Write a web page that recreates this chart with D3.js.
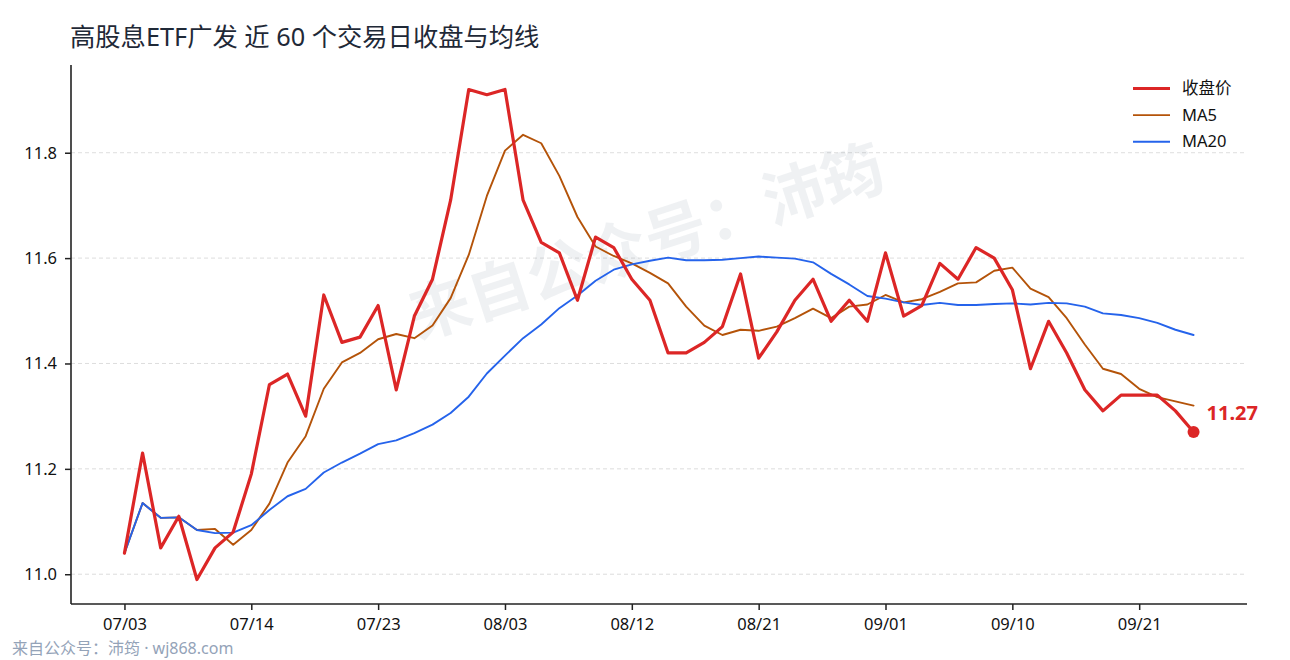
<!DOCTYPE html>
<html>
<head>
<meta charset="utf-8">
<script src="https://cdn.jsdelivr.net/npm/d3@7/dist/d3.min.js"></script>
<style>
  html, body { margin: 0; padding: 0; background: #fff; }
  svg { display: block; font-family: "Noto Sans", "Noto Sans CJK SC", sans-serif; }
</style>
</head>
<body>
<div id="container"></div>
<script>
// trading days (only every 7th shows as a tick)
const dates = [
  "07/03","07/04","07/07","07/08","07/09","07/10","07/11","07/14",
  "07/15","07/16","07/17","07/18","07/21","07/22","07/23",
  "07/24","07/25","07/28","07/29","07/30","07/31","08/03",
  "08/04","08/05","08/06","08/07","08/08","08/11","08/12",
  "08/13","08/14","08/15","08/18","08/19","08/20","08/21",
  "08/22","08/25","08/26","08/27","08/28","08/29","09/01",
  "09/02","09/03","09/04","09/05","09/08","09/09","09/10",
  "09/11","09/12","09/15","09/16","09/17","09/18","09/21",
  "09/22","09/23","09/24"
]

const close = [
  11.04, 11.23, 11.05, 11.11, 10.99, 11.05, 11.08, 11.19, 11.36, 11.38,
  11.30, 11.53, 11.44, 11.45, 11.51, 11.35, 11.49, 11.56, 11.71, 11.92,
  11.91, 11.92, 11.71, 11.63, 11.61, 11.52, 11.64, 11.62, 11.56, 11.52,
  11.42, 11.42, 11.44, 11.47, 11.57, 11.41, 11.46, 11.52, 11.56, 11.48,
  11.52, 11.48, 11.61, 11.49, 11.51, 11.59, 11.56, 11.62, 11.60, 11.54,
  11.39, 11.48, 11.42, 11.35, 11.31, 11.34, 11.34, 11.34, 11.31, 11.27
]

const ma5 = [
  11.040, 11.135, 11.107, 11.108, 11.084, 11.086, 11.056, 11.084, 11.134, 11.212,
  11.262, 11.352, 11.402, 11.420, 11.446, 11.456, 11.448, 11.472, 11.524, 11.606,
  11.718, 11.804, 11.834, 11.818, 11.756, 11.678, 11.622, 11.604, 11.590, 11.572,
  11.552, 11.508, 11.472, 11.454, 11.464, 11.462, 11.470, 11.486, 11.504, 11.486,
  11.508, 11.512, 11.530, 11.516, 11.522, 11.536, 11.552, 11.554, 11.576, 11.582,
  11.542, 11.526, 11.486, 11.436, 11.390, 11.380, 11.352, 11.336, 11.328, 11.320
]

const ma20 = [
  11.040, 11.135, 11.107, 11.108, 11.084, 11.078, 11.079, 11.093, 11.122, 11.148,
  11.162, 11.193, 11.212, 11.229, 11.247, 11.254, 11.268, 11.284, 11.306, 11.337,
  11.381, 11.415, 11.448, 11.474, 11.505, 11.529, 11.557, 11.578, 11.588, 11.595,
  11.601, 11.596, 11.596, 11.597, 11.600, 11.603, 11.601, 11.599, 11.592, 11.570,
  11.550, 11.528, 11.523, 11.516, 11.511, 11.515, 11.511, 11.511, 11.513, 11.514,
  11.512, 11.515, 11.514, 11.508, 11.495, 11.492, 11.486, 11.477, 11.464, 11.454
]

const yTicks = [11.0, 11.2, 11.4, 11.6, 11.8]

const series = [
  {name: "收盘价", values: close, color: "#dc2626", width: 3.2},
  {name: "MA5", values: ma5, color: "#b45309", width: 1.9},
  {name: "MA20", values: ma20, color: "#2563eb", width: 1.9}
]

const width = 1290
const height = 660
const plot = {left: 71, right: 1247, top: 65, bottom: 604}

const n = close.length
const pad = (n - 1) * 0.05
const x = d3.scaleLinear()
    .domain([-pad, n - 1 + pad])
    .range([plot.left, plot.right])

const lo = d3.min(close), hi = d3.max(close)
const ypad = (hi - lo) * 0.05
const y = d3.scaleLinear()
    .domain([lo - ypad, hi + ypad])
    .range([plot.bottom, plot.top])

const svg = d3.create("svg")
    .attr("width", width)
    .attr("height", height)

svg.append("rect").attr("width", width).attr("height", height).attr("fill", "#fff")

// grid
svg.append("g")
    .selectAll("line")
    .data(yTicks)
    .join("line")
    .attr("x1", plot.left)
    .attr("x2", plot.right)
    .attr("y1", d => y(d))
    .attr("y2", d => y(d))
    .attr("stroke", "#d9d9d9")
    .attr("stroke-width", 0.9)
    .attr("stroke-dasharray", "4,3")

// watermark in the middle
svg.append("text")
    .attr("transform", "translate(648,247) rotate(-18)")
    .attr("text-anchor", "middle")
    .attr("dominant-baseline", "middle")
    .attr("font-family", "Noto Sans CJK SC")
    .attr("font-size", 62)
    .attr("font-weight", "bold")
    .attr("fill", "#64748b")
    .attr("fill-opacity", 0.1)
    .text("来自公众号：沛筠")

// MA5, MA20, then close on top
const line = d3.line()
    .x((d, i) => x(i))
    .y(d => y(d))

const order = [series[1], series[2], series[0]]
svg.append("g")
    .selectAll("path")
    .data(order)
    .join("path")
    .attr("d", d => line(d.values))
    .attr("fill", "none")
    .attr("stroke", d => d.color)
    .attr("stroke-width", d => d.width)
    .attr("stroke-linejoin", "round")
    .attr("stroke-linecap", "round")

// last point marker
const last = close[n - 1]
svg.append("circle")
    .attr("cx", x(n - 1))
    .attr("cy", y(last))
    .attr("r", 6)
    .attr("fill", "#dc2626")

svg.append("text")
    .attr("x", x(n - 1) + 13)
    .attr("y", y(last) - 12)
    .attr("font-size", 20)
    .attr("font-weight", "bold")
    .attr("fill", "#dc2626")
    .text(last.toFixed(2))

// axes
const xAxis = svg.append("g")
    .attr("transform", `translate(0, ${plot.bottom})`)
    .call(d3.axisBottom(x)
        .tickValues(d3.range(0, n, 7))
        .tickFormat(i => dates[i])
        .tickSize(6)
        .tickPadding(8))

const yAxis = svg.append("g")
    .attr("transform", `translate(${plot.left}, 0)`)
    .call(d3.axisLeft(y)
        .tickValues(yTicks)
        .tickFormat(d3.format(".1f"))
        .tickSize(6)
        .tickPadding(8))

for (const ax of [xAxis, yAxis]) {
    ax.select(".domain").attr("stroke", "#222").attr("stroke-width", 1.6)
    ax.selectAll(".tick line").attr("stroke", "#222").attr("stroke-width", 1.5)
    ax.selectAll(".tick text")
        .attr("fill", "#111")
        .attr("font-size", 16.5)
        .attr("font-family", "Noto Sans")
}
// spines stop at the plot box
xAxis.select(".domain").attr("d", `M${plot.left},0H${plot.right}`)
yAxis.select(".domain").attr("d", `M0,${plot.bottom}V${plot.top}`)

// legend
const legend = svg.append("g")
    .attr("transform", "translate(1133, 88.5)")

const item = legend.selectAll("g")
    .data(series)
    .join("g")
    .attr("transform", (d, i) => `translate(0, ${i * 26.6})`)

item.append("line")
    .attr("x1", 0)
    .attr("x2", 37)
    .attr("stroke", d => d.color)
    .attr("stroke-width", d => d.width)

item.append("text")
    .attr("x", 49)
    .attr("dy", "0.35em")
    .attr("font-size", 16.5)
    .attr("fill", "#111")
    .text(d => d.name)

// title
svg.append("text")
    .attr("x", 70)
    .attr("y", 46)
    .attr("font-size", 25.3)
    .attr("fill", "#1f2937")
    .text("高股息ETF广发 近 60 个交易日收盘与均线")

// footer
svg.append("text")
    .attr("x", 12)
    .attr("y", 654)
    .attr("font-size", 16)
    .attr("fill", "#94a3b8")
    .text("来自公众号：沛筠 · wj868.com")

document.querySelector("#container").appendChild(svg.node())
</script>
</body>
</html>
